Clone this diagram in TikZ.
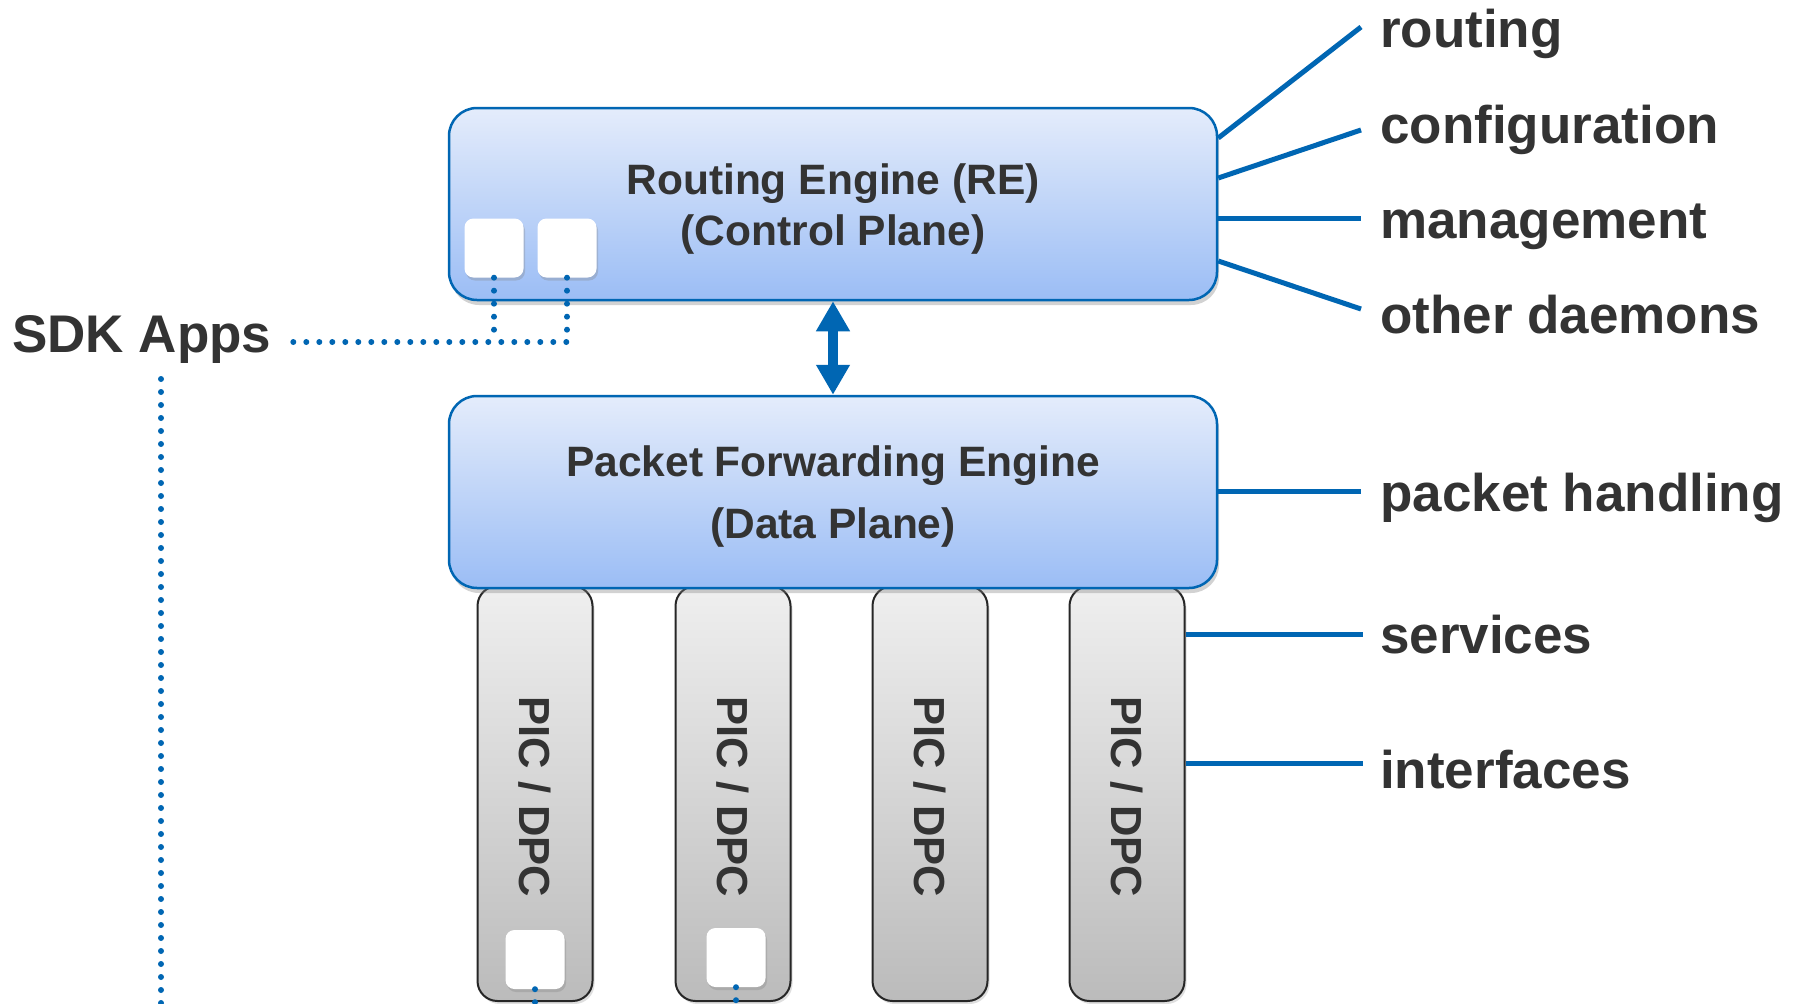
\documentclass[tikz,border=0pt]{standalone}
\usepackage{fontspec}
\setmainfont{Liberation Sans}
\usetikzlibrary{shadows,arrows.meta,calc}
\definecolor{txt}{HTML}{333333}
\definecolor{lblue}{HTML}{0066B3}
\definecolor{retop}{HTML}{E4ECFB}
\definecolor{rebot}{HTML}{9BBDF5}
\definecolor{pictop}{HTML}{EFEFEF}
\definecolor{picbot}{HTML}{BBBBBB}
\begin{document}
\begin{tikzpicture}[x=1pt,y=-1pt,
  engine/.style={draw=lblue, line width=2.5pt, rounded corners=28pt,
    top color=retop, bottom color=rebot, minimum width=768pt, minimum height=192pt,
    inner sep=0pt, drop shadow={shadow xshift=2pt, shadow yshift=-5pt, opacity=0.35}},
  picbox/.style={draw=black!85, line width=2pt, rounded corners=20pt,
    top color=pictop, bottom color=picbot, minimum width=115pt, minimum height=415pt,
    inner sep=0pt, drop shadow={shadow xshift=2pt, shadow yshift=-3pt, opacity=0.25}},
  appbox/.style={fill=white, rounded corners=9pt, minimum width=59pt, minimum height=59pt,
    inner sep=0pt, drop shadow={shadow xshift=1.5pt, shadow yshift=-3pt, opacity=0.3}},
  boxtext/.style={font=\fontsize{42.5}{50}\selectfont\bfseries, text=txt, inner sep=0pt, anchor=base},
  pictext/.style={font=\fontsize{43.5}{50}\selectfont\bfseries, text=txt, inner sep=0pt,
    rotate=-90, text height=31pt, text depth=0pt},
  lab/.style={font=\fontsize{53}{60}\selectfont\bfseries, text=txt, anchor=base west, inner sep=0pt},
  conn/.style={draw=lblue, line width=5pt},
  dotline/.style={draw=lblue, line width=6pt, line cap=round, dash pattern=on 0pt off 13pt},
  dblarrow/.style={draw=lblue, line width=10pt, >={Triangle[length=30pt,width=32pt]}, <->}
]
\clip (0,0) rectangle (1800,1004);
\fill[white] (0,0) rectangle (1800,1004);

% PIC / DPC cards
\node[picbox] (pic1) at (535,793.5) {};
\node[picbox] (pic2) at (733,793.5) {};
\node[picbox] (pic3) at (930,793.5) {};
\node[picbox] (pic4) at (1127,793.5) {};
\node[pictext] (pt1) at (535,797) {PIC / DPC};
\node[pictext] (pt2) at (733,797) {PIC / DPC};
\node[pictext] (pt3) at (930,797) {PIC / DPC};
\node[pictext] (pt4) at (1127,797) {PIC / DPC};

% engines
\node[engine] (re) at (833,204) {};
\node[engine] (pfe) at (833,492) {};
\node[boxtext] (ret1) at (833,194) {Routing Engine (RE)};
\node[boxtext] (ret2) at (833,245) {(Control Plane)};
\node[boxtext] (pfet1) at (833,476) {Packet Forwarding Engine};
\node[boxtext] (pfet2) at (833,538) {(Data Plane)};

% app boxes
\node[appbox] (ra1) at (494,248) {};
\node[appbox] (ra2) at (567,248) {};
\node[appbox] (pa1) at (535,959.5) {};
\node[appbox] (pa2) at (736,957.5) {};

% arrow between engines
\draw[dblarrow] (re.south) -- (pfe.north);

% labels
\node[lab] (lrouting) at (1380,47) {routing};
\node[lab] (lconfig) at (1380,143) {configuration};
\node[lab] (lmgmt) at (1380,238) {management};
\node[lab] (lother) at (1380,333) {other daemons};
\node[lab] (lpacket) at (1380,511) {packet handling};
\node[lab] (lserv) at (1380,653) {services};
\node[lab] (lintf) at (1380,788) {interfaces};
\node[lab] (sdk) at (12,352) {SDK Apps};

% connector end points
\coordinate (erouting) at (1361,27);
\coordinate (econfig) at (1361,130);
\coordinate (emgmt) at (1361,218);
\coordinate (eother) at (1361,309);
\coordinate (epacket) at (1361,491);
\coordinate (eserv) at (1363,634);
\coordinate (eintf) at (1363,763);

\draw[conn] (re.east |- 0,138) -- (erouting);
\draw[conn] (re.east |- 0,178) -- (econfig);
\draw[conn] (re.east |- 0,218) -- (emgmt);
\draw[conn] (re.east |- 0,261) -- (eother);
\draw[conn] (pfe.east |- 0,491) -- (epacket);
\draw[conn] (pic4.east |- 0,634) -- (eserv);
\draw[conn] (pic4.east |- 0,763) -- (eintf);

% dotted SDK links
\coordinate (sdkend) at (293,342);
\coordinate (sdktop) at (161,379);
\coordinate (sdkbot) at (161,1012);
\draw[dotline] (ra2.south) |- (sdkend);
\draw[dotline] (ra1.south) -- (ra1.south |- sdkend);
\draw[dotline] (sdktop) -- (sdkbot);
\draw[dotline] (pa1.south) -- (pa1.south |- sdkbot);
\draw[dotline] (pa2.south) -- (pa2.south |- sdkbot);
\end{tikzpicture}
\end{document}
